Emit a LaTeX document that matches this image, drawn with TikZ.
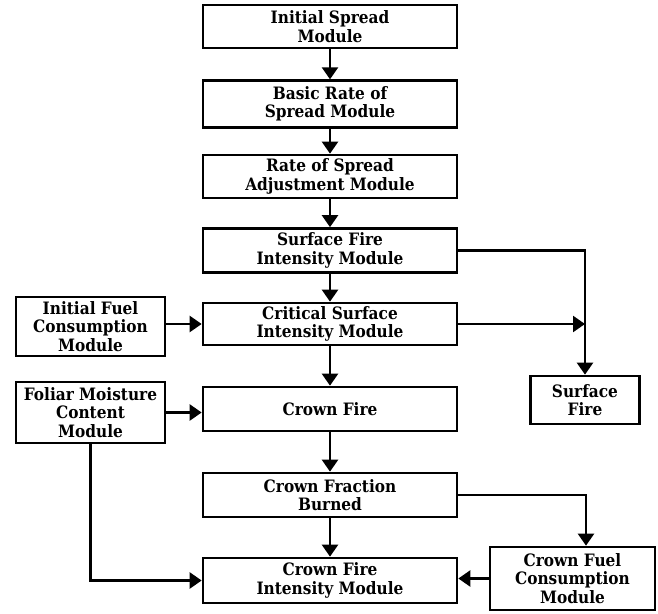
\documentclass[tikz,border=0pt]{standalone}
\usepackage{fontspec}
\setmainfont{DejaVu Serif Condensed}
\usetikzlibrary{arrows.meta}
\tikzset{
  caja/.style={draw, line width=2pt, align=center, inner sep=0pt,
    font=\fontsize{12.8}{13.8}\selectfont\bfseries},
  central/.style={caja, minimum width=190.5pt},
  flecha/.style={line width=1.8pt, -{Triangle[width=12pt,length=9pt]}},
}
\begin{document}
\begin{tikzpicture}[x=0.75pt,y=-0.75pt]
    \useasboundingbox (0,0) rectangle (658,614);
    % Columna central
    \node[central, minimum height=32.25pt] (ini) at (330,26.5) {Initial Spread\\Module};
    \node[central, minimum height=35pt] (basica) at (330,104) {Basic Rate of\\Spread Module};
    \node[central, minimum height=32.25pt] (ajuste) at (330,176.5) {Rate of Spread\\Adjustment Module};
    \node[central, minimum height=33pt] (superf) at (330,250.5) {Surface Fire\\Intensity Module};
    \node[central, minimum height=31.5pt] (critica) at (330,324) {Critical Surface\\Intensity Module};
    \node[central, minimum height=33pt] (copa) at (330,409) {Crown Fire};
    \node[central, minimum height=33pt] (fraccion) at (330,495) {Crown Fraction\\Burned};
    \node[central, minimum height=33.75pt] (intens) at (330,580.5) {Crown Fire\\Intensity Module};
    % Entradas laterales
    \node[caja, minimum width=111.75pt, minimum height=44.25pt] (consumo) at (90.5,326.5) {Initial Fuel\\Consumption\\Module};
    \node[caja, minimum width=111.75pt, minimum height=45.75pt] (humedad) at (90.5,412.5) {Foliar Moisture\\Content\\Module};
    \node[caja, minimum width=81.75pt, minimum height=36pt] (fuego) at (585,400) {Surface\\Fire};
    \node[caja, minimum width=123.75pt, minimum height=47.25pt] (combcopa) at (572.5,578.5) {Crown Fuel\\Consumption\\Module};
    \coordinate (bajada) at (586,0);
    % Flechas
    \draw[flecha] (ini) -- (basica);
    \draw[flecha] (basica) -- (ajuste);
    \draw[flecha] (ajuste) -- (superf);
    \draw[flecha] (superf) -- (critica);
    \draw[flecha] (critica) -- (copa);
    \draw[flecha] (copa) -- (fraccion);
    \draw[flecha] (fraccion) -- (intens);
    \draw[flecha] (superf.east) -| (fuego.north);
    \draw[flecha] (critica.east) -- (critica.east -| fuego.north);
    \draw[flecha] (consumo.east |- critica.west) -- (critica.west);
    \draw[flecha] (humedad.east) -- (humedad.east -| copa.west);
    \draw[flecha] (humedad.south) |- (intens.west);
    \draw[flecha] (fraccion.east) -| (bajada |- combcopa.north);
    \draw[flecha] (combcopa.west) -- (combcopa.west -| intens.east);
\end{tikzpicture}
\end{document}
